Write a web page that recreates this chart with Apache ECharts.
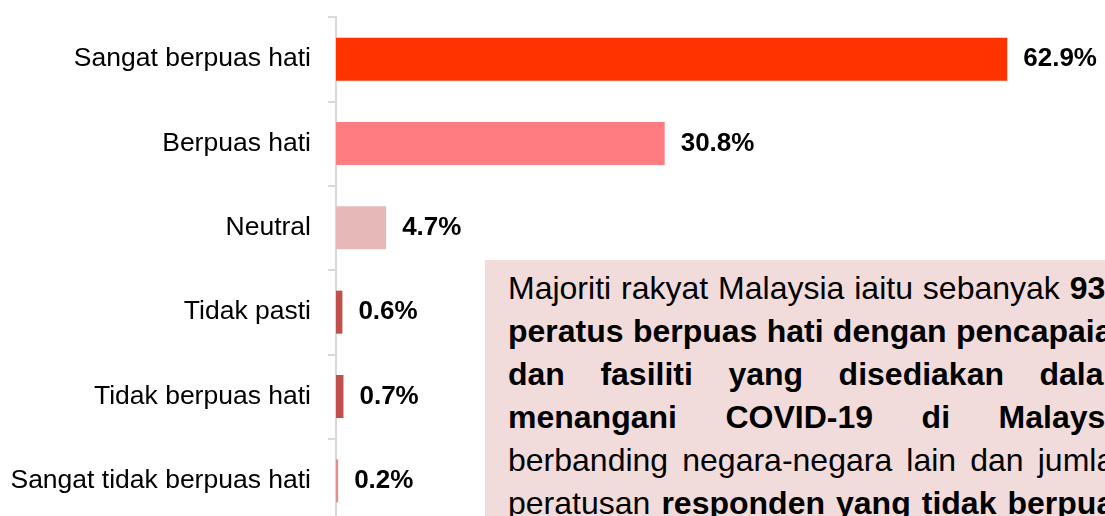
<!DOCTYPE html>
<html>
<head>
<meta charset="utf-8">
<script src="https://cdn.jsdelivr.net/npm/echarts@6/dist/echarts.min.js"></script>
<style>
  html, body { margin: 0; padding: 0; overflow: hidden; background: #fff; }
  #wrap { position: relative; width: 1105px; height: 516px; overflow: hidden; }
  #chart { width: 1105px; height: 540px; }
  .note {
    position: absolute; left: 485px; top: 260px; width: 680px; height: 300px;
    background: #F2DCDB; box-sizing: border-box; padding: 7px 0 0 23px;
    font-family: "Liberation Sans", Arial, sans-serif; font-size: 32px; line-height: 43px; color: #000;
  }
  .note div { width: 624px; text-align: justify; text-align-last: justify; white-space: nowrap; }
  .note b { font-weight: bold; }
</style>
</head>
<body>
<div id="wrap">
  <div id="chart"></div>
  <div class="note">
    <div>Majoriti rakyat Malaysia iaitu sebanyak <b>93.7</b></div>
    <div><b>peratus berpuas hati dengan pencapaian</b></div>
    <div><b>dan fasiliti yang disediakan dalam</b></div>
    <div><b>menangani COVID-19 di Malaysia</b></div>
    <div>berbanding negara-negara lain dan jumlah</div>
    <div>peratusan <b>responden yang tidak berpuas</b></div>
  </div>
</div>
<script>
// kategori kepuasan dan peratusan responden
var categories = ['Sangat berpuas hati', 'Berpuas hati', 'Neutral', 'Tidak pasti', 'Tidak berpuas hati', 'Sangat tidak berpuas hati'];
var values = [62.9, 30.8, 4.7, 0.6, 0.7, 0.2];
var barColors = ['#FF3300', '#FF7C80', '#E6B9B8', '#C0504D', '#C0504D', '#E0918F'];

var myChart = echarts.init(document.getElementById('chart'));
var option = {
  animation: false,
  grid: { left: 336, top: 17, right: 22, height: 506 },
  xAxis: {
    type: 'value',
    min: 0,
    max: 70,
    show: false
  },
  yAxis: {
    type: 'category',
    inverse: true,
    data: categories,
    axisLine: { show: true, lineStyle: { color: '#D9D9D9', width: 2 } },
    axisTick: { show: true, length: 8, lineStyle: { color: '#D9D9D9', width: 2 } },
    axisLabel: {
      margin: 25,
      fontSize: 26.5,
      color: '#000',
      fontFamily: 'Liberation Sans, Arial, sans-serif',
      padding: [4, 0, 0, 0]
    }
  },
  series: [
    {
      type: 'bar',
      barWidth: 43,
      data: values.map(function (v, i) {
        return { value: v, itemStyle: { color: barColors[i] } };
      }),
      label: {
        show: true,
        position: 'right',
        distance: 16,
        formatter: function (p) { return p.value.toFixed(1) + '%'; },
        fontSize: 26,
        fontWeight: 'bold',
        color: '#000',
        fontFamily: 'Liberation Sans, Arial, sans-serif',
        padding: [4, 0, 0, 0]
      }
    }
  ]
};
myChart.setOption(option);
</script>
</body>
</html>
